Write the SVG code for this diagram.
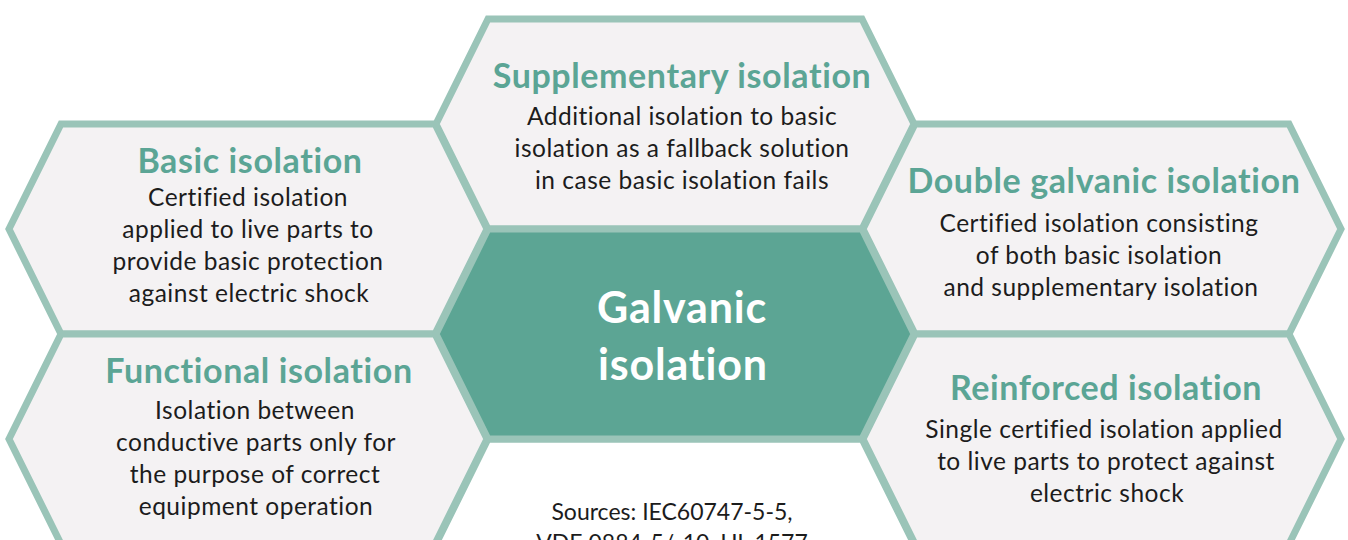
<svg xmlns="http://www.w3.org/2000/svg" width="1348" height="540" viewBox="0 0 1348 540">
<style>
.hex{fill:#f4f2f3;stroke:#9ac4b8;stroke-width:7;stroke-linejoin:miter}
.core{fill:#5ca594;stroke:#9ac4b8;stroke-width:7}
.blank{fill:#ffffff;stroke:#9ac4b8;stroke-width:7}
.t{font-family:Lato,"Liberation Sans",sans-serif;font-weight:700;font-size:34px;letter-spacing:0.6px;fill:#5ba595;text-anchor:middle}
.b{font-family:Lato,"Liberation Sans",sans-serif;font-size:24.5px;letter-spacing:0.5px;fill:#1c1c1c;text-anchor:middle}
.s{font-family:Lato,"Liberation Sans",sans-serif;font-size:23px;fill:#1c1c1c;text-anchor:middle}
.c{font-family:Lato,"Liberation Sans",sans-serif;font-weight:700;font-size:43px;letter-spacing:0.8px;fill:#ffffff;text-anchor:middle}
</style>
<rect width="1348" height="540" fill="#ffffff"/>
<g id="sources">
<polygon class="blank" points="436,544 488,439 862,439 914,544 862,649 488,649"/>
<text class="s" x="672" y="520">Sources: IEC60747-5-5,</text>
<text class="s" x="672" y="551">VDE 0884-5/-10, UL 1577</text>
</g>
<g id="supplementary">
<polygon class="hex" points="436,124 488,19 862,19 914,124 862,229 488,229"/>
<text class="t" x="682" y="88">Supplementary isolation</text>
<text class="b" x="682" y="125">Additional isolation to basic</text>
<text class="b" x="682" y="157">isolation as a fallback solution</text>
<text class="b" x="682" y="189">in case basic isolation fails</text>
</g>
<g id="basic">
<polygon class="hex" points="9,229 61,124 435,124 487,229 435,334 61,334"/>
<text class="t" x="250" y="173">Basic isolation</text>
<text class="b" x="248" y="206">Certified isolation</text>
<text class="b" x="248" y="238">applied to live parts to</text>
<text class="b" x="248" y="270">provide basic protection</text>
<text class="b" x="249" y="302">against electric shock</text>
</g>
<g id="functional">
<polygon class="hex" points="9,439 61,334 435,334 487,439 435,544 61,544"/>
<text class="t" x="259" y="383">Functional isolation</text>
<text class="b" x="255" y="419">Isolation between</text>
<text class="b" x="256" y="451">conductive parts only for</text>
<text class="b" x="255" y="483">the purpose of correct</text>
<text class="b" x="256" y="515">equipment operation</text>
</g>
<g id="double">
<polygon class="hex" points="863,229 915,124 1289,124 1341,229 1289,334 915,334"/>
<text class="t" x="1104" y="193">Double galvanic isolation</text>
<text class="b" x="1099" y="232">Certified isolation consisting</text>
<text class="b" x="1099" y="264">of both basic isolation</text>
<text class="b" x="1101" y="296">and supplementary isolation</text>
</g>
<g id="reinforced">
<polygon class="hex" points="863,439 915,334 1289,334 1341,439 1289,544 915,544"/>
<text class="t" x="1106" y="400">Reinforced isolation</text>
<text class="b" x="1104" y="438">Single certified isolation applied</text>
<text class="b" x="1106" y="470">to live parts to protect against</text>
<text class="b" x="1107" y="502">electric shock</text>
</g>
<g id="galvanic">
<polygon class="core" points="436,334 488,229 862,229 914,334 862,439 488,439"/>
<text class="c" x="682" y="323">Galvanic</text>
<text class="c" x="683" y="380">isolation</text>
</g>
<g id="connectors"></g>
</svg>
